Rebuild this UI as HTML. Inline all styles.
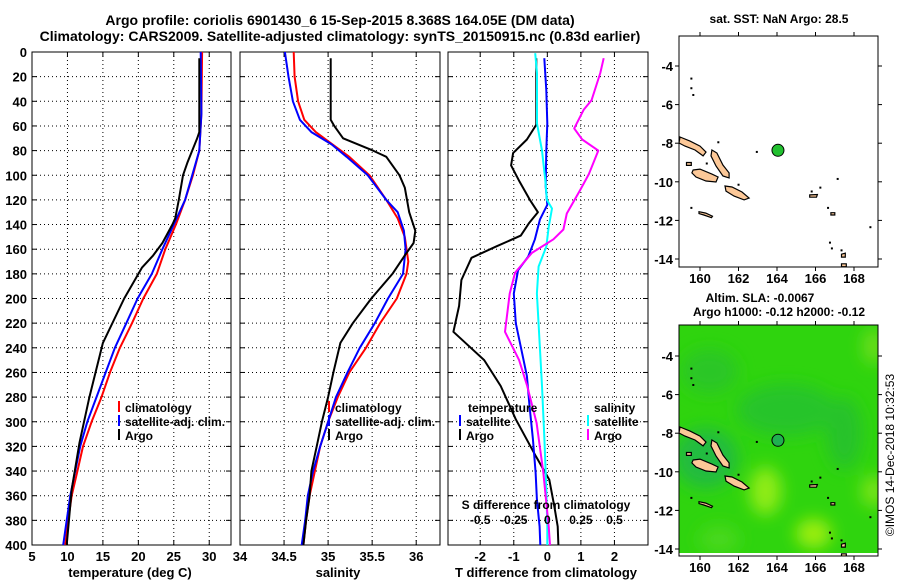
<!DOCTYPE html>
<html><head><meta charset="utf-8"><style>
body{margin:0;background:#fff;}
svg{display:block;font-family:"Liberation Sans",Arial,sans-serif;font-weight:bold;}
</style></head><body>
<svg id="c" width="900" height="580" viewBox="0 0 900 580"></svg>
<script>
// ---------- data ----------
const tDepth = [0,50,80,100,120,140,160,180,200,220,240,260,280,300,320,340,360,380,400];
const tClim  = [29.0,28.9,28.6,27.7,26.6,25.3,23.8,22.6,20.7,19.1,17.4,16.0,14.8,13.4,12.2,11.4,10.6,10.1,9.7];
const tSat   = [28.8,28.9,28.6,27.6,26.6,25.0,23.4,21.9,19.9,18.3,16.7,15.4,14.1,12.8,11.8,11.1,10.4,9.9,9.4];
const tArgoDepth = [5,65,70,80,90,100,120,135,140,155,165,175,200,236,280,317,355,400];
const tArgo  = [28.6,28.6,28.3,27.6,26.9,26.3,25.7,25.2,24.8,23.4,22.1,20.5,18.0,15.0,13.1,11.7,10.6,9.9];

const sDepth = [0,20,40,55,65,75,85,100,120,135,150,170,180,200,220,240,260,280,300,320,340,360,380,400];
const sClim  = [34.61,34.62,34.66,34.73,34.86,35.05,35.24,35.47,35.66,35.79,35.87,35.91,35.89,35.78,35.59,35.43,35.24,35.11,35.00,34.91,34.85,34.79,34.75,34.72];
const sSatDepth = [0,20,40,55,65,75,85,100,120,130,145,160,180,200,220,240,260,280,300,320,340,360,380,400];
const sSat   = [34.51,34.55,34.60,34.68,34.81,35.04,35.21,35.45,35.66,35.79,35.86,35.88,35.85,35.68,35.53,35.36,35.22,35.09,35.00,34.91,34.83,34.77,34.74,34.70];
const sArgoDepth = [5,55,60,70,80,85,100,110,130,145,155,165,180,200,220,236,260,280,300,320,340,360,380,400];
const sArgo  = [35.03,35.03,35.07,35.17,35.51,35.66,35.81,35.87,35.92,35.99,35.97,35.87,35.73,35.49,35.28,35.14,35.06,35.00,34.93,34.87,34.81,34.79,34.75,34.72];

const dtArgoDepth = [5,59,71,82,92,104,120,130,139,149,158,167,185,206,227,240,250,271,298,328,347,369,385,400];
const dtArgo = [-0.33,-0.33,-0.61,-1.02,-1.08,-0.85,-0.52,-0.28,-0.55,-0.79,-1.54,-2.26,-2.56,-2.63,-2.80,-2.28,-1.88,-1.39,-0.94,-0.34,0.06,0.21,0.31,0.33];
const dtSatDepth = [5,31,58,80,109,124,136,152,166,177,196,220,247,263,287,314,341,363,385,400];
const dtSat  = [-0.09,-0.03,0.0,-0.03,-0.05,0.0,-0.22,-0.37,-0.57,-0.87,-1.0,-0.94,-0.73,-0.61,-0.53,-0.43,-0.35,-0.31,-0.23,-0.21];
const dsSatDepth = [1,17,58,80,104,120,127,142,158,174,196,234,271,314,355,385,400];
const dsSat  = [-0.09,-0.077,-0.077,-0.04,-0.015,-0.003,0.035,0.01,-0.008,-0.065,-0.078,-0.058,-0.04,-0.022,-0.008,0.0,0.0];
const dsArgoDepth = [5,17,39,47,62,71,80,99,112,131,144,152,163,179,196,227,250,271,301,341,385,400];
const dsArgo = [0.42,0.395,0.33,0.27,0.20,0.26,0.38,0.31,0.245,0.145,0.12,0.045,-0.115,-0.24,-0.28,-0.315,-0.21,-0.15,-0.08,-0.03,0.01,0.02];

const depthTicks = [0,20,40,60,80,100,120,140,160,180,200,220,240,260,280,300,320,340,360,380,400];
const tTicks = [5,10,15,20,25,30];
const sTicks = [34,34.5,35,35.5,36];
const dtTicks = [-2,-1,0,1,2];
const dsTicks = [-0.5,-0.25,0,0.25,0.5];
const dsTickLabels = ["-0.5","-0.25","0","0.25","0.5"];
const lonTicks = [160,162,164,166,168];
const latTicks = [-4,-6,-8,-10,-12,-14];
const argoLon = 164.05, argoLat = -8.368;

const islands = [
 [[158.96,-7.68],[159.48,-7.89],[160,-8.15],[160.31,-8.46],[160.16,-8.66],[159.74,-8.35],[159.22,-8.15],[158.91,-7.99]],
 [[159.64,-9.39],[160,-9.34],[160.62,-9.60],[160.94,-9.75],[160.83,-10.01],[160.31,-9.96],[159.79,-9.75],[159.58,-9.54]],
 [[160.62,-8.35],[160.88,-8.51],[161.19,-9.13],[161.51,-9.54],[161.51,-9.80],[161.19,-9.70],[160.83,-9.18],[160.57,-8.66]],
 [[161.30,-10.22],[161.66,-10.27],[162.18,-10.53],[162.55,-10.84],[162.29,-10.94],[161.77,-10.74],[161.35,-10.48]],
 [[159.95,-11.55],[160.3,-11.62],[160.65,-11.78],[160.6,-11.86],[160.2,-11.72],[159.95,-11.65]],
 [[165.7,-10.68],[166.1,-10.66],[166.05,-10.8],[165.7,-10.8]],
 [[166.8,-11.6],[167.0,-11.6],[167.0,-11.72],[166.8,-11.72]],
 [[167.35,-13.75],[167.55,-13.7],[167.55,-13.9],[167.35,-13.9]],
 [[167.35,-14.25],[167.6,-14.25],[167.6,-14.4],[167.35,-14.4]],
 [[159.3,-9.0],[159.55,-9.0],[159.55,-9.15],[159.3,-9.15]]
];
const islets = [[159.5,-4.6],[159.5,-5.1],[159.6,-5.45],[162.9,-8.4],[160.9,-7.9],[160.3,-9.0],[161.95,-10.1],[159.5,-11.3],[166.2,-10.25],[165.75,-10.45],[166.6,-11.3],[167.1,-9.8],[166.7,-13.1],[166.8,-13.4],[167.3,-13.5],[168.8,-12.3]];

// ---------- helpers ----------
const NS='http://www.w3.org/2000/svg';
const svg=document.getElementById('c');
function mk(tag,attrs,parent){const e=document.createElementNS(NS,tag);for(const k in attrs)e.setAttribute(k,attrs[k]);(parent||svg).appendChild(e);return e;}
function txt(x,y,s,size,anchor,parent){const e=mk('text',{x:x,y:y,'font-size':size,'text-anchor':anchor||'middle'},parent);e.textContent=s;return e;}

const TOP=52, BOT=545;
const yD = d => TOP + (d/400)*(BOT-TOP);

function panel(name,x0,x1,vmin,vmax,ticks,labels,showY){
  const xs = v => x0 + (v-vmin)/(vmax-vmin)*(x1-x0);
  const g=mk('g',{});
  
  
  depthTicks.forEach(d=>{ if(d>0&&d<400){mk('line',{x1:x0,x2:x1,y1:yD(d),y2:yD(d),stroke:'#000','stroke-width':1,'stroke-dasharray':'1,3'},g);}
    mk('line',{x1:x0,x2:x0+5,y1:yD(d),y2:yD(d),stroke:'#000'},g);mk('line',{x1:x1-5,x2:x1,y1:yD(d),y2:yD(d),stroke:'#000'},g);
    if(showY){const t=txt(x0-5,yD(d)+5,String(d),13,'end',g);}
  });
  ticks.forEach((v,i)=>{const x=xs(v);
    if(x>x0+1&&x<x1-1) mk('line',{x1:x,x2:x,y1:TOP,y2:BOT,stroke:'#000','stroke-width':1,'stroke-dasharray':'1,3'},g);
    mk('line',{x1:x,x2:x,y1:BOT-5,y2:BOT,stroke:'#000'},g);mk('line',{x1:x,x2:x,y1:TOP,y2:TOP+5,stroke:'#000'},g);
    if(labels){const t=txt(x,561,labels[i],13,'middle',g);}
  });
  mk('rect',{x:x0,y:TOP,width:x1-x0,height:BOT-TOP,fill:'none',stroke:'#000','stroke-width':1},g);
  return {g,xs};
}
function line(p,vals,depths,color,name,w){
  const pts=vals.map((v,i)=>p.xs(v).toFixed(1)+','+yD(depths[i]).toFixed(1)).join(' ');
  const l=mk('polyline',{points:pts,fill:'none',stroke:color,'stroke-width':w||2,'stroke-linejoin':'round'},p.g);
  
  
}
function legendEntry(g,x,y,color,label,name){
  mk('line',{x1:x,x2:x,y1:y-11,y2:y,stroke:color,'stroke-width':2},g);
  const t=txt(x+6,y,label,12,'start',g);
  
  
}

// ---------- titles ----------
let t1=txt(340,25,'Argo profile: coriolis 6901430_6 15-Sep-2015 8.368S 164.05E (DM data)',14);


let t2=txt(340,41,'Climatology: CARS2009. Satellite-adjusted climatology: synTS_20150915.nc (0.83d earlier)',14);



// ---------- panel 1 temperature ----------
const p1=panel('temperature-panel',32,231,5,33.07,tTicks,tTicks.map(String),true);
line(p1,tClim,tDepth,'#ff0000','temperature-climatology-line');
line(p1,tSat,tDepth,'#0000ff','temperature-satellite-line');
line(p1,tArgo,tArgoDepth,'#000','temperature-argo-line');
legendEntry(p1.g,119,412,'#ff0000','climatology','legend-climatology');
legendEntry(p1.g,119,426,'#0000ff','satellite-adj. clim.','legend-satellite-adj');
legendEntry(p1.g,119,440,'#000','Argo','legend-argo');
let xl1=txt(130,577,'temperature (deg C)',13);



// ---------- panel 2 salinity ----------
const p2=panel('salinity-panel',240,440,34,36.27,sTicks,sTicks.map(String),false);
line(p2,sClim,sDepth,'#ff0000','salinity-climatology-line');
line(p2,sSat,sSatDepth,'#0000ff','salinity-satellite-line');
line(p2,sArgo,sArgoDepth,'#000','salinity-argo-line');
legendEntry(p2.g,329,412,'#ff0000','climatology','legend-climatology-s');
legendEntry(p2.g,329,426,'#0000ff','satellite-adj. clim.','legend-satellite-adj-s');
legendEntry(p2.g,329,440,'#000','Argo','legend-argo-s');
let xl2=txt(338,577,'salinity',13);



// ---------- panel 3 differences ----------
const p3=panel('difference-panel',448,648,-2.96,3.0,dtTicks,dtTicks.map(String),false);
const sx = v => p3.xs(v*4);
line(p3,dtArgo,dtArgoDepth,'#000','tdiff-argo-line');
line(p3,dtSat,dtSatDepth,'#0000ff','tdiff-satellite-line');
line(p3,dsSat.map(v=>v*4),dsSatDepth,'#00ffff','sdiff-satellite-line');
line(p3,dsArgo.map(v=>v*4),dsArgoDepth,'#ff00ff','sdiff-argo-line');
let lt=txt(468,412,'temperature',12,'start',p3.g);
legendEntry(p3.g,460,426,'#0000ff','satellite','legend-t-satellite');
legendEntry(p3.g,460,440,'#000','Argo','legend-t-argo');
let ls=txt(594,412,'salinity',12,'start',p3.g);
legendEntry(p3.g,588,426,'#00ffff','satellite','legend-s-satellite');
legendEntry(p3.g,588,440,'#ff00ff','Argo','legend-s-argo');
let sdl=txt(546,509,'S difference from climatology',12,'middle',p3.g);


dsTicks.forEach((v,i)=>{const t=txt(sx(v),524,dsTickLabels[i],12,'middle',p3.g);
  
  });
let xl3=txt(546,577,'T difference from climatology',13);



// ---------- maps ----------
const MX0=679,MX1=878;
const lonX = lon => 700 + (lon-160)*19.25;
function makeMap(name,y0,y1,yLatM4,withBg){
  const latY = lat => yLatM4 + (-4-lat)*19.3;
  const g=mk('g',{});
  
  
  const clipId=name+'-clip';
  const cp=mk('clipPath',{id:clipId},g);mk('rect',{x:MX0,y:y0,width:MX1-MX0,height:y1-y0},cp);
  const inner=mk('g',{'clip-path':'url(#'+clipId+')'},g);
  if(withBg){
    mk('rect',{x:MX0,y:y0,width:MX1-MX0,height:y1-y0,fill:'#2fd40e'},inner);
    const defs=mk('defs',{},inner);
    const f=mk('filter',{id:'blur1',x:'-50%',y:'-50%',width:'200%',height:'200%'},defs);mk('feGaussianBlur',{stdDeviation:8},f);
    const fg=mk('g',{filter:'url(#blur1)'},inner);
    mk('ellipse',{cx:lonX(160.3),cy:latY(-9.3),rx:32,ry:30,fill:'#22bb40'},fg);
    mk('ellipse',{cx:lonX(164.5),cy:latY(-6.8),rx:50,ry:26,fill:'#28c42a'},fg);
    mk('ellipse',{cx:lonX(160.5),cy:latY(-4.8),rx:28,ry:22,fill:'#2ac628'},fg);
    mk('ellipse',{cx:lonX(167.5),cy:latY(-8),rx:18,ry:36,fill:'#26c22c'},fg);
    mk('ellipse',{cx:lonX(163.4),cy:latY(-11),rx:16,ry:24,fill:'#90ec14'},fg);
    mk('ellipse',{cx:lonX(165.9),cy:latY(-13.2),rx:18,ry:15,fill:'#9cee10'},fg);
    mk('ellipse',{cx:lonX(169),cy:latY(-11),rx:12,ry:16,fill:'#7ae418'},fg);
    mk('ellipse',{cx:lonX(169),cy:latY(-3.5),rx:10,ry:18,fill:'#70de1a'},fg);
    mk('ellipse',{cx:lonX(161),cy:latY(-13.5),rx:20,ry:14,fill:'#48d81a'},fg);
    mk('rect',{x:MX0,y:y1-3,width:MX1-MX0,height:3,fill:'#fff'},inner);
  }
  islands.forEach(poly=>{const pts=poly.map(p=>lonX(p[0]).toFixed(1)+','+latY(p[1]).toFixed(1)).join(' ');
    const pl=mk('polygon',{points:pts,fill:'#fcc898',stroke:'#000','stroke-width':1.2},inner);
    
    });
  islets.forEach(p=>{mk('rect',{x:lonX(p[0]),y:latY(p[1]),width:2,height:2,fill:'#000'},inner);});
  const dot=mk('circle',{cx:lonX(argoLon),cy:latY(argoLat),r:6,fill:withBg?'#20b050':'#22c030',stroke:'#000','stroke-width':1},inner);
  
  
  mk('rect',{x:MX0,y:y0,width:MX1-MX0,height:y1-y0,fill:'none',stroke:'#000'},g);
  lonTicks.forEach(l=>{const x=lonX(l);mk('line',{x1:x,x2:x,y1:y1,y2:y1+4,stroke:'#000'},g);mk('line',{x1:x,x2:x,y1:y0-4,y2:y0,stroke:'#000'},g);
    const t=txt(x,y1+16,String(l),13,'middle',g);});
  latTicks.forEach(l=>{const y=latY(l);mk('line',{x1:MX0-4,x2:MX0,y1:y,y2:y,stroke:'#000'},g);mk('line',{x1:MX1,x2:MX1+4,y1:y,y2:y,stroke:'#000'},g);
    const t=txt(MX0-6,y+5,String(l),13,'end',g);});
  return g;
}
makeMap('sst-map',36,267,66,false);
makeMap('sla-map',325,556,356,true);
let mt1=txt(779,23,'sat. SST: NaN Argo: 28.5',12);
let mt2=txt(760,302,'Altim. SLA: -0.0067',12);
let mt3=txt(779,316,'Argo h1000: -0.12 h2000: -0.12',12);
let cr=txt(0,0,'©IMOS 14-Dec-2018 10:32:53',12,'middle');
cr.setAttribute('transform','translate(894,455) rotate(-90)');
cr.setAttribute('font-weight','normal');


</script>
</body></html>
